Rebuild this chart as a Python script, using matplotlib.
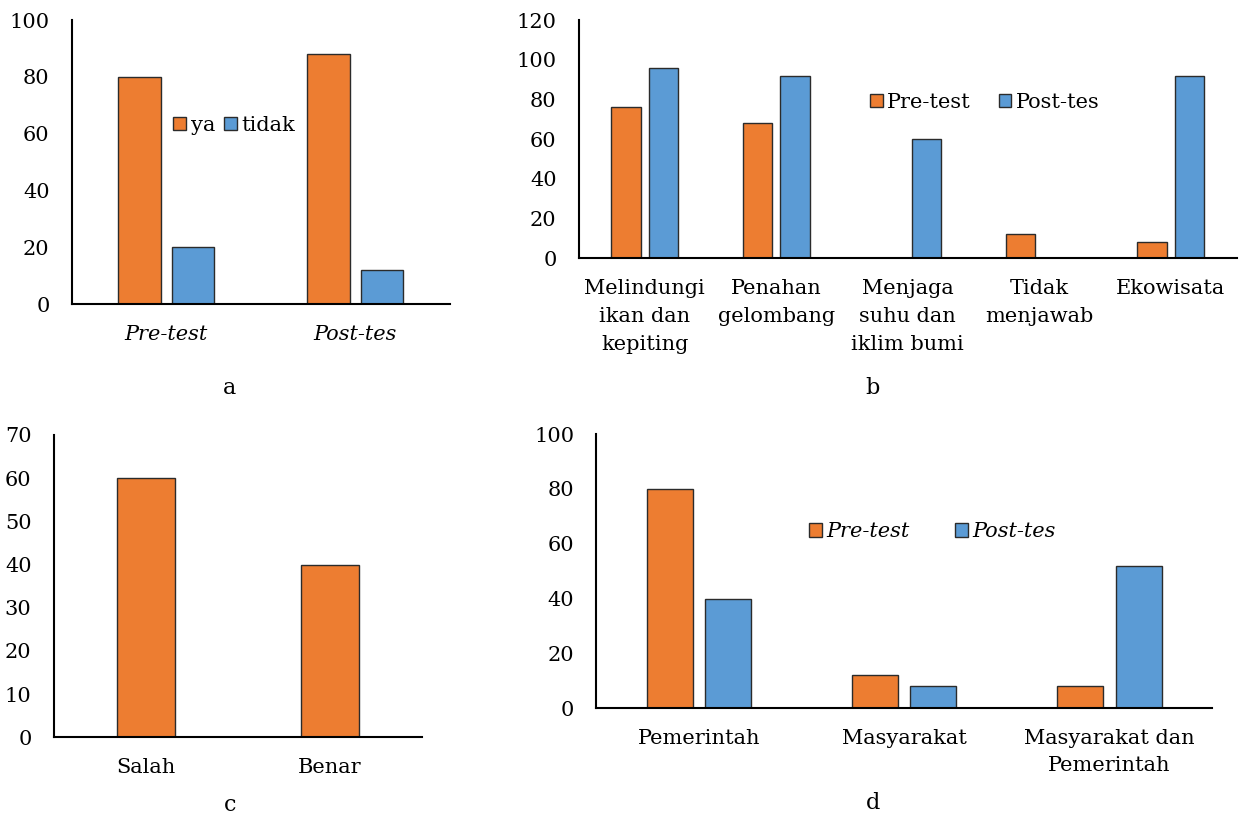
import numpy as np
import matplotlib
matplotlib.use("Agg")
import matplotlib.pyplot as plt

plt.rcParams['font.family'] = ['DejaVu Serif']
plt.rcParams['font.size'] = 15

ORANGE = "#ED7D31"
BLUE = "#5B9BD5"
EDGE = "#2b2b2b"

# a
a_cats = ["Pre-test", "Post-tes"]
a_ya = [80, 88]
a_tidak = [20, 12]

# b
b_cats = ["Melindungi\nikan dan\nkepiting", "Penahan\ngelombang", "Menjaga\nsuhu dan\niklim bumi",
          "Tidak\nmenjawab", "Ekowisata"]
b_pre = [76, 68, 0, 12, 8]
b_post = [96, 92, 60, 0, 92]

# c
c_cats = ["Salah", "Benar"]
c_vals = [60, 40]

# d
d_cats = ["Pemerintah", "Masyarakat", "Masyarakat dan\nPemerintah"]
d_pre = [80, 12, 8]
d_post = [40, 8, 52]

W, H = 1239, 817
fig = plt.figure(figsize=(W / 100, H / 100), dpi=100)


def add_ax(l, r, b, t):
    return fig.add_axes([l / W, 1 - b / H, (r - l) / W, (b - t) / H])


def style(ax, ymax, step):
    ax.set_ylim(0, ymax)
    ax.set_yticks(np.arange(0, ymax + 1, step))
    for s in ["top", "right"]:
        ax.spines[s].set_visible(False)
    for s in ["left", "bottom"]:
        ax.spines[s].set_linewidth(1.5)
        ax.spines[s].set_color("black")
    ax.tick_params(axis="y", length=0, pad=16)
    ax.tick_params(axis="x", length=0, pad=15)


bw = 0.224
off = 0.142
bar_kw = dict(edgecolor=EDGE, linewidth=1)

# panel a
ax = add_ax(71.8, 449.7, 304, 20)
x = np.arange(len(a_cats))
ax.bar(x - off, a_ya, bw, color=ORANGE, label="ya", **bar_kw)
ax.bar(x + off, a_tidak, bw, color=BLUE, label="tidak", **bar_kw)
ax.set_xlim(-0.5, len(a_cats) - 0.5)
style(ax, 100, 20)
ax.set_xticks(x)
ax.set_xticklabels(a_cats, style="italic")
ax.legend(loc="center", bbox_to_anchor=(0.43, 0.63), ncol=2, frameon=False,
          handlelength=0.6, handleheight=0.6, handletextpad=0.22, columnspacing=0.45,
          borderpad=0, borderaxespad=0)
fig.text(230 / W, 1 - 388 / H, "a", ha="center", va="center", fontsize=16)

# panel b
ax = add_ax(578.9, 1236.6, 258.3, 20)
x = np.arange(len(b_cats))
ax.bar(x - off, b_pre, bw, color=ORANGE, label="Pre-test", **bar_kw)
ax.bar(x + off, b_post, bw, color=BLUE, label="Post-tes", **bar_kw)
ax.set_xlim(-0.5, len(b_cats) - 0.5)
style(ax, 120, 20)
ax.set_xticks(x)
ax.set_xticklabels(b_cats, linespacing=1.58, va="top")
ax.legend(loc="center", bbox_to_anchor=(0.617, 0.654), ncol=2, frameon=False,
          handlelength=0.6, handleheight=0.6, handletextpad=0.22, columnspacing=1.33,
          borderpad=0, borderaxespad=0)
fig.text(873 / W, 1 - 388 / H, "b", ha="center", va="center", fontsize=16)

# panel c
ax = add_ax(53.8, 422, 737.3, 435)
x = np.arange(len(c_cats))
ax.bar(x, c_vals, 0.315, color=ORANGE, **bar_kw)
ax.set_xlim(-0.5, len(c_cats) - 0.5)
style(ax, 70, 10)
ax.set_xticks(x)
ax.set_xticklabels(c_cats)
fig.text(230 / W, 1 - 805 / H, "c", ha="center", va="center", fontsize=16)

# panel d
ax = add_ax(596.4, 1212, 708.3, 434)
x = np.arange(len(d_cats))
ax.bar(x - off, d_pre, bw, color=ORANGE, label="Pre-test", **bar_kw)
ax.bar(x + off, d_post, bw, color=BLUE, label="Post-tes", **bar_kw)
ax.set_xlim(-0.5, len(d_cats) - 0.5)
style(ax, 100, 20)
ax.set_xticks(x)
ax.set_xticklabels(d_cats, linespacing=1.5, va="top")
ax.legend(loc="center", bbox_to_anchor=(0.546, 0.643), ncol=2, frameon=False,
          handlelength=0.6, handleheight=0.6, handletextpad=0.22, columnspacing=2.2,
          borderpad=0, borderaxespad=0, prop={"style": "italic", "size": 15})
fig.text(873 / W, 1 - 803 / H, "d", ha="center", va="center", fontsize=16)

fig.savefig("out.png", dpi=100)
